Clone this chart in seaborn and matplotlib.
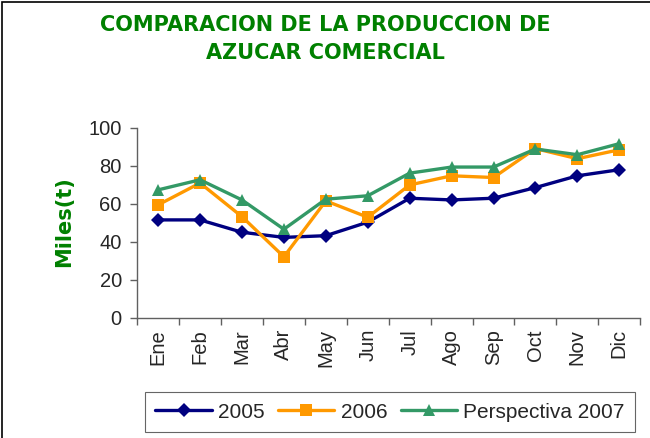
import matplotlib
matplotlib.use("Agg")
import matplotlib.pyplot as plt
import seaborn as sns
import numpy as np
import pandas as pd

meses = ["Ene", "Feb", "Mar", "Abr", "May", "Jun", "Jul", "Ago", "Sep", "Oct", "Nov", "Dic"]
prod_2005 = [51.6, 51.6, 45.1, 42.4, 43.3, 50.4, 63.0, 62.1, 63.0, 68.6, 74.8, 78.0]
prod_2006 = [59.5, 71.0, 53.3, 32.2, 61.6, 53.0, 70.0, 74.8, 73.9, 89.1, 83.8, 88.5]
prod_2007 = [67.4, 72.7, 62.1, 46.7, 62.5, 64.3, 76.2, 79.4, 79.4, 88.9, 85.9, 91.7]
series = ["2005", "2006", "Perspectiva 2007"]

df = pd.DataFrame({
    "mes": np.tile(np.arange(len(meses)), 3),
    "valor": prod_2005 + prod_2006 + prod_2007,
    "serie": np.repeat(series, len(meses)),
})

sns.set_style("white")
plt.rcParams["font.family"] = ["Liberation Sans", "DejaVu Sans"]

colors = {"2005": "#000080", "2006": "#FF9900", "Perspectiva 2007": "#339966"}
markers = {"2005": "D", "2006": "s", "Perspectiva 2007": "^"}
sizes = {"2005": 7, "2006": 8, "Perspectiva 2007": 9}

fig = plt.figure(figsize=(6.5, 4.38), dpi=100)
ax = fig.add_axes([0.211, 0.274, 0.774, 0.434])

sns.lineplot(data=df, x="mes", y="valor", hue="serie", style="serie",
             palette=colors, markers=markers, dashes=False, linewidth=2.4,
             markersize=9, markeredgewidth=0, ax=ax, legend=False)
for line, s in zip(ax.get_lines(), series):
    line.set_markersize(sizes[s])

ax.set_xlim(-0.5, len(meses) - 0.5)
ax.set_ylim(0, 100)
ax.set_yticks(range(0, 101, 20))
ax.set_xticks(range(len(meses)))
ax.set_xticklabels(meses, rotation=90, fontsize=14.5)
ax.tick_params(axis="y", labelsize=14.5, length=5, direction="out", left=True,
               width=1, color="#606060", pad=6)
ax.tick_params(axis="x", length=0, pad=8)
ax.set_xticks(np.arange(-0.5, len(meses)), minor=True)
ax.tick_params(axis="x", which="minor", length=5, bottom=True, width=1, color="#606060")
for side in ["top", "right"]:
    ax.spines[side].set_visible(False)
for side in ["left", "bottom"]:
    ax.spines[side].set_color("#606060")
    ax.spines[side].set_linewidth(1)
ax.set_xlabel("")
ax.set_ylabel("")

fig.text(0.099, 0.493, "Miles(t)", rotation=90, color="#008000", fontsize=15,
         fontweight="bold", ha="center", va="center", family="DejaVu Sans")
fig.text(0.5, 0.912, "COMPARACION DE LA PRODUCCION DE\nAZUCAR COMERCIAL",
         color="#008000", fontsize=15, fontweight="bold", ha="center",
         va="center", linespacing=1.5, family="DejaVu Sans")

handles = [plt.Line2D([], [], color=colors[s], marker=markers[s], markersize=sizes[s],
                      markeredgewidth=0, linewidth=2.4) for s in series]
leg = fig.legend(handles, series, loc="center", bbox_to_anchor=(0.6, 0.059), ncol=3,
                 fontsize=15, frameon=True, fancybox=False, edgecolor="#404040",
                 handlelength=2.7, handletextpad=0.3, columnspacing=0.65,
                 borderpad=0.5)
leg.get_frame().set_linewidth(0.8)

fig.patches.append(plt.Rectangle((0.003, -0.01), 1.1, 1.005, transform=fig.transFigure,
                                 fill=False, edgecolor="black", linewidth=1.2))

fig.savefig("out.png", dpi=100)
